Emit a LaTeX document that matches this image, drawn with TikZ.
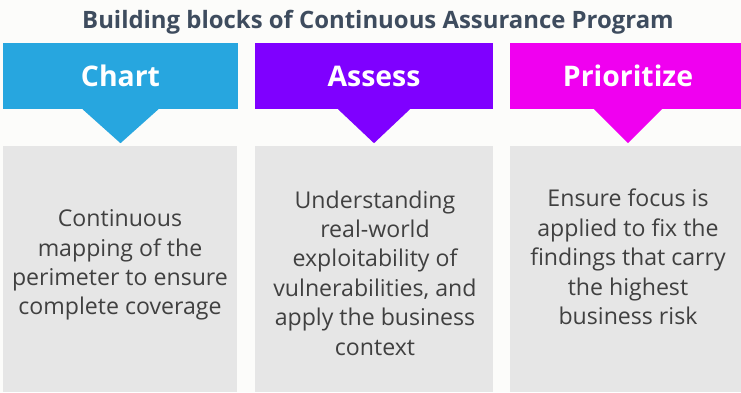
\documentclass[tikz,border=0pt]{standalone}
\usepackage{fontspec}
\setmainfont{Open Sans}
\definecolor{bgc}{HTML}{FCFCFA}
\definecolor{titlec}{HTML}{3E4C5E}
\definecolor{chartc}{HTML}{27A6DF}
\definecolor{assessc}{HTML}{7F00FF}
\definecolor{prioc}{HTML}{F000F0}
\definecolor{grayc}{HTML}{E6E6E6}
\definecolor{textc}{HTML}{404040}
\tikzset{
  hdr/.style={draw=none, minimum height=66bp, inner sep=0pt, text=white,
    font=\fontsize{28.5}{32}\selectfont\bfseries},
  panel/.style={fill=grayc, draw=none, minimum height=246bp, inner sep=0pt, anchor=north west},
  body/.style={text=textc, align=center, inner sep=0pt,
    font=\fontsize{23.2}{29.5}\selectfont},
}
\begin{document}
\begin{tikzpicture}[x=1bp,y=-1bp]
\fill[bgc] (0,0) rectangle (741,392);
\useasboundingbox (0,0) rectangle (741,392);
\node[text=titlec, font=\fontsize{24}{28}\selectfont\bfseries] (title) at (378,22) {Building blocks of Continuous Assurance Program};
% panels
\node[panel, minimum width=234bp] (p1) at (3,146) {};
\node[panel, minimum width=238bp] (p2) at (255,146) {};
\node[panel, minimum width=236bp] (p3) at (510,146) {};
% headers
\node[hdr, fill=chartc, minimum width=235bp] (h1) at (120.5,76) {Chart};
\node[hdr, fill=assessc, minimum width=238bp] (h2) at (374,76) {Assess};
\node[hdr, fill=prioc, minimum width=236bp] (h3) at (628,76) {Prioritize};
\fill[chartc] ([xshift=-38bp]h1.south) -- ([xshift=38bp]h1.south) -- ([yshift=-34bp]h1.south) -- cycle;
\fill[assessc] ([xshift=-36bp]h2.south) -- ([xshift=36bp]h2.south) -- ([yshift=-34bp]h2.south) -- cycle;
\fill[prioc] ([xshift=-34bp]h3.south) -- ([xshift=34bp]h3.south) -- ([yshift=-34bp]h3.south) -- cycle;
% texts
\node[body] (t1) at (120,265) {Continuous\\mapping of the\\perimeter to ensure\\complete coverage};
\node[body] (t2) at (375,273) {Understanding\\real-world\\exploitability of\\vulnerabilities, and\\apply the business\\context};
\node[body] (t3) at (628,257) {Ensure focus is\\applied to fix the\\findings that carry\\the highest\\business risk};
\end{tikzpicture}
\end{document}
